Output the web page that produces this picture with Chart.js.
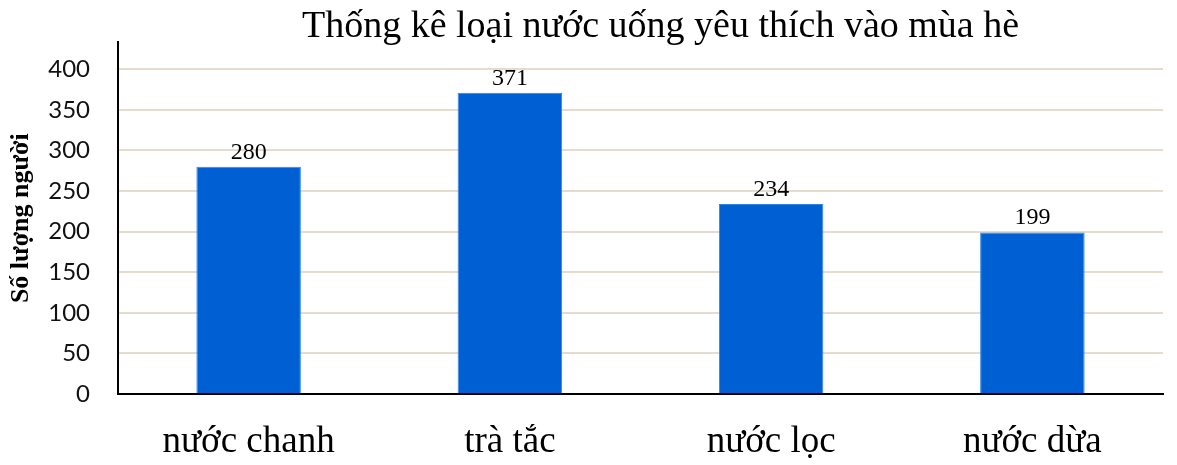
<!DOCTYPE html>
<html>
<head>
<meta charset="utf-8">
<script src="https://cdn.jsdelivr.net/npm/chart.js@4"></script>
<style>
  html, body { margin: 0; padding: 0; background: #fff; }
  #wrap { width: 1177px; height: 465px; }
</style>
</head>
<body>
<div id="wrap"><canvas id="drinkChart"></canvas></div>
<script>
// data
const categories = ['nước chanh', 'trà tắc', 'nước lọc', 'nước dừa'];
const counts = [280, 371, 234, 199];
const yTicks = [0, 50, 100, 150, 200, 250, 300, 350, 400];
const chartTitle = 'Thống kê loại nước uống yêu thích vào mùa hè';

const serif = '"Liberation Serif", "Times New Roman", serif';

// value labels above each bar + title sitting a bit right of centre
const valueLabels = {
    id: 'valueLabels',
    afterDatasetsDraw(chart) {
        const ctx = chart.ctx;
        const meta = chart.getDatasetMeta(0);
        ctx.save();
        ctx.font = '24px ' + serif;
        ctx.fillStyle = '#000';
        ctx.textAlign = 'center';
        ctx.textBaseline = 'alphabetic';
        meta.data.forEach((bar, i) => {
            ctx.fillText(String(counts[i]), bar.x, bar.y - 8);
        });
        ctx.font = '38px ' + serif;
        const area = chart.chartArea;
        ctx.fillText(chartTitle, (area.left + area.right) / 2 + 20, 37);
        ctx.restore();
    }
};

new Chart(document.getElementById('drinkChart'), {
    type: 'bar',
    data: {
        labels: categories,
        datasets: [{
            data: counts,
            backgroundColor: '#0060d3',
            borderColor: '#2f86e0',
            borderWidth: 1,
            categoryPercentage: 1,
            barPercentage: 0.4
        }]
    },
    options: {
        responsive: true,
        maintainAspectRatio: false,
        animation: false,
        layout: { padding: { left: 8, right: 14, top: 41, bottom: 0 } },
        plugins: {
            legend: { display: false },
            tooltip: { enabled: false },
            title: { display: false }
        },
        scales: {
            x: {
                grid: { display: false, drawTicks: false },
                border: { color: '#000', width: 2 },
                ticks: {
                    color: '#000',
                    font: { family: serif, size: 37 },
                    padding: 26,
                    maxRotation: 0
                },
                afterFit(scale) { scale.height = 71; }
            },
            y: {
                min: 0,
                max: 433,
                afterBuildTicks(scale) {
                    scale.ticks = yTicks.map(v => ({ value: v }));
                },
                grid: { color: '#e6dccd', lineWidth: 2, drawTicks: false },
                border: { color: '#000', width: 2 },
                ticks: {
                    color: '#111',
                    font: { family: 'Lato, "Open Sans", sans-serif', size: 24 },
                    padding: 28
                },
                title: {
                    display: true,
                    text: 'Số lượng người',
                    color: '#000',
                    font: { family: serif, size: 26, weight: 'bold', lineHeight: 1.0 },
                    padding: 0
                },
                afterFit(scale) { scale.width = 110; }
            }
        }
    },
    plugins: [valueLabels]
});
</script>
</body>
</html>
